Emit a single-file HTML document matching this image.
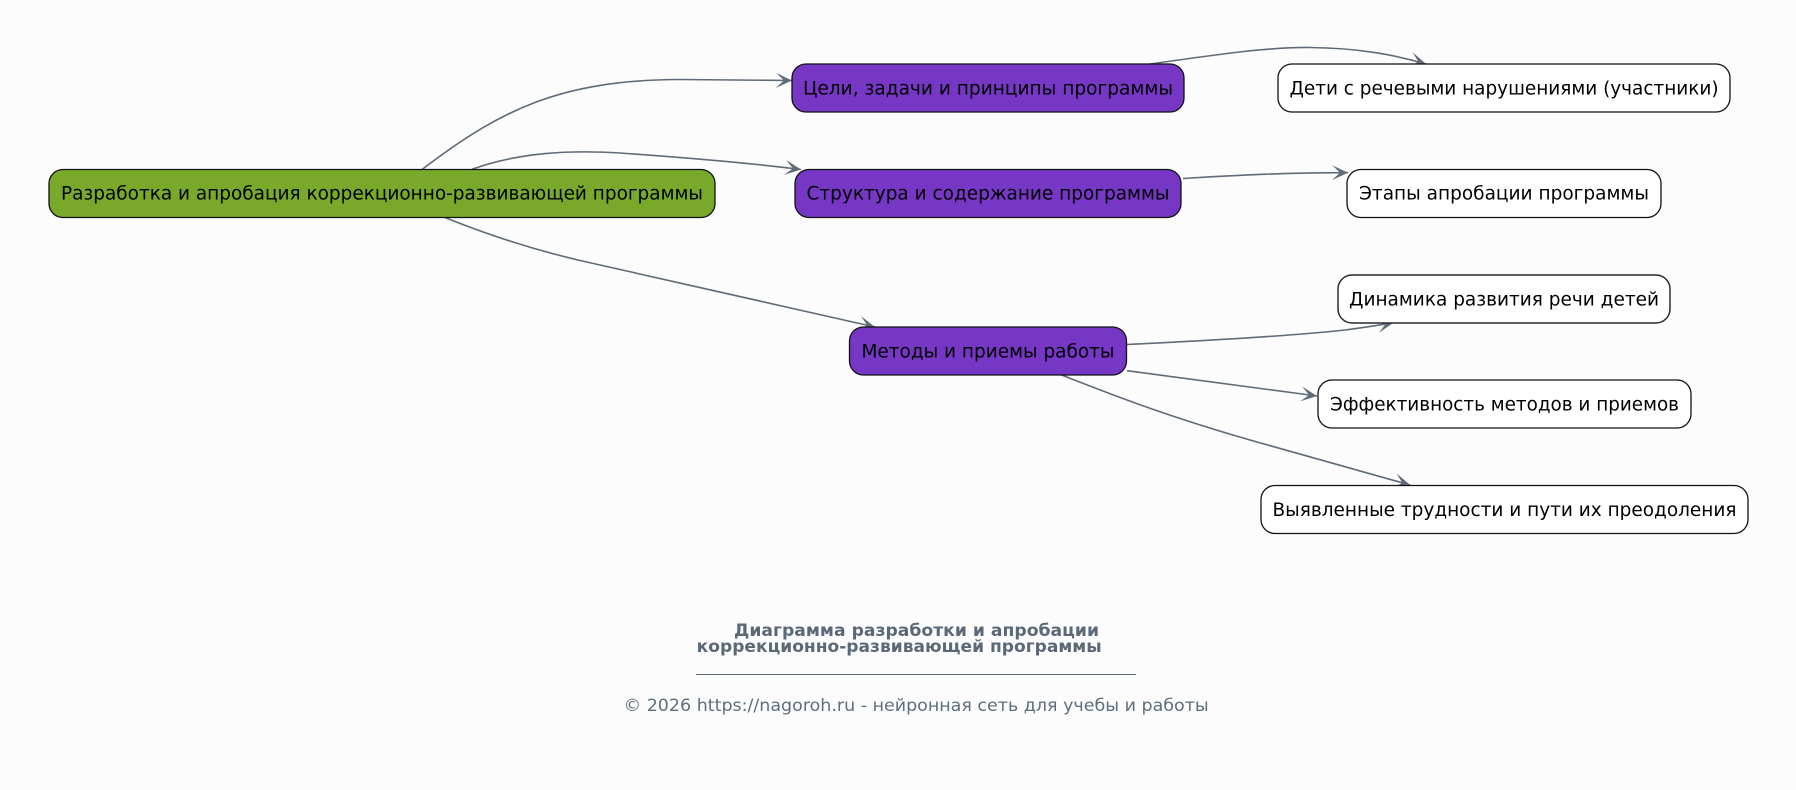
<!DOCTYPE html>
<html>
<head>
<meta charset="utf-8">
<style>
  html, body { margin:0; padding:0; background:#fcfcfd; }
  svg { display:block; }
  .n { font-family:"DejaVu Sans","Liberation Sans",sans-serif; font-size:18.67px; fill:#000; }
  .e { fill:none; stroke:#5f6b78; stroke-width:1.6; }
</style>
</head>
<body>
<svg width="1796" height="790" viewBox="0 0 1796 790" xmlns="http://www.w3.org/2000/svg">
  <defs>
    <marker id="ar" viewBox="0 0 16 16" refX="16" refY="8" markerWidth="16" markerHeight="16" markerUnits="userSpaceOnUse" orient="auto">
      <path d="M0,0.5 L16,8 L0,15.5 L8,8 Z" fill="#5f6b78"/>
    </marker>
  </defs>
  <rect x="0" y="0" width="1796" height="790" fill="#fcfcfd"/>

  <!-- edges -->
  <path class="e" marker-end="url(#ar)" d="M422,169.5 C500,110 560,80 680,79.5 L792,80.5"/>
  <path class="e" marker-end="url(#ar)" d="M472,169.3 C520,152 570,150 620,153 C690,158 750,163 801,169.5"/>
  <path class="e" marker-end="url(#ar)" d="M445,217.5 Q520,248 600,265 L875,327"/>
  <path class="e" marker-end="url(#ar)" d="M1147,64.5 C1220,54 1270,47 1310,47.5 C1360,48 1395,55 1426,64"/>
  <path class="e" marker-end="url(#ar)" d="M1183,178.5 C1240,175 1290,172.5 1348,172.7"/>
  <path class="e" marker-end="url(#ar)" d="M1127,344.5 C1220,340 1300,335 1345,330 C1365,327.5 1380,325 1393.5,322.7"/>
  <path class="e" marker-end="url(#ar)" d="M1127,370.7 L1317,396"/>
  <path class="e" marker-end="url(#ar)" d="M1061.7,375 C1120,398 1170,417 1250,440 L1410,485"/>

  <!-- nodes -->
  <rect x="49" y="169.5" width="666" height="48" rx="14" fill="#78a92b" stroke="#111" stroke-width="1.3"/>
  <text class="n" x="382" y="199.5" text-anchor="middle" textLength="642" lengthAdjust="spacingAndGlyphs">Разработка и апробация коррекционно-развивающей программы</text>

  <rect x="792" y="64" width="392" height="48" rx="14" fill="#7637c5" stroke="#111" stroke-width="1.3"/>
  <text class="n" x="988" y="94.5" text-anchor="middle" textLength="370" lengthAdjust="spacingAndGlyphs">Цели, задачи и принципы программы</text>

  <rect x="795" y="169.5" width="386" height="48" rx="14" fill="#7637c5" stroke="#111" stroke-width="1.3"/>
  <text class="n" x="988" y="199.5" text-anchor="middle" textLength="363" lengthAdjust="spacingAndGlyphs">Структура и содержание программы</text>

  <rect x="849.5" y="327" width="277" height="48" rx="14" fill="#7637c5" stroke="#111" stroke-width="1.3"/>
  <text class="n" x="988" y="357.5" text-anchor="middle" textLength="253" lengthAdjust="spacingAndGlyphs">Методы и приемы работы</text>

  <rect x="1278" y="64" width="452" height="48" rx="14" fill="#ffffff" stroke="#111" stroke-width="1.3"/>
  <text class="n" x="1504" y="94.5" text-anchor="middle" textLength="429" lengthAdjust="spacingAndGlyphs">Дети с речевыми нарушениями (участники)</text>

  <rect x="1347" y="169.5" width="314" height="48" rx="14" fill="#ffffff" stroke="#111" stroke-width="1.3"/>
  <text class="n" x="1504" y="199.5" text-anchor="middle" textLength="290" lengthAdjust="spacingAndGlyphs">Этапы апробации программы</text>

  <rect x="1338" y="275" width="332" height="48" rx="14" fill="#ffffff" stroke="#2a2a2a" stroke-width="1.5"/>
  <text class="n" x="1504" y="305.5" text-anchor="middle" textLength="310" lengthAdjust="spacingAndGlyphs">Динамика развития речи детей</text>

  <rect x="1318" y="380" width="373" height="48" rx="14" fill="#ffffff" stroke="#111" stroke-width="1.3"/>
  <text class="n" x="1504.5" y="410.5" text-anchor="middle" textLength="349" lengthAdjust="spacingAndGlyphs">Эффективность методов и приемов</text>

  <rect x="1261" y="485.5" width="487" height="48" rx="14" fill="#ffffff" stroke="#111" stroke-width="1.3"/>
  <text class="n" x="1504.5" y="516" text-anchor="middle" textLength="464" lengthAdjust="spacingAndGlyphs">Выявленные трудности и пути их преодоления</text>

  <!-- footer -->
  <text x="734" y="636" font-family="DejaVu Sans, Liberation Sans, sans-serif" font-size="17" font-weight="bold" fill="#5a6878" textLength="365" lengthAdjust="spacingAndGlyphs">Диаграмма разработки и апробации</text>
  <text x="696.7" y="652" font-family="DejaVu Sans, Liberation Sans, sans-serif" font-size="17" font-weight="bold" fill="#5a6878" textLength="405" lengthAdjust="spacingAndGlyphs">коррекционно-развивающей программы</text>
  <line x1="696" y1="674.5" x2="1136" y2="674.5" stroke="#5a6878" stroke-width="1"/>
  <text x="623.7" y="711" font-family="DejaVu Sans, Liberation Sans, sans-serif" font-size="17" fill="#5f6e7d" textLength="585" lengthAdjust="spacingAndGlyphs">© 2026 https://nagoroh.ru - нейронная сеть для учебы и работы</text>
</svg>
</body>
</html>
